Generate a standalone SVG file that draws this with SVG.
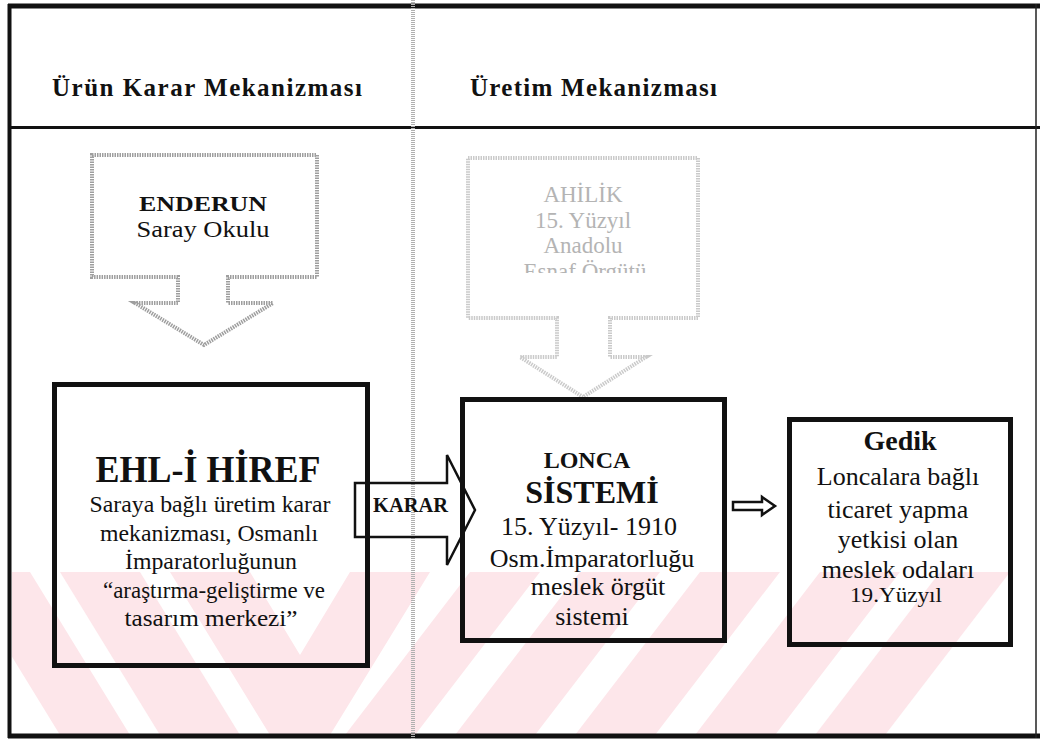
<svg xmlns="http://www.w3.org/2000/svg" width="1040" height="740" viewBox="0 0 1040 740">
<defs>
<style>
.t{font-family:"Liberation Serif","Times New Roman","DejaVu Serif",serif;fill:#111;text-anchor:middle}
.b{font-weight:bold}
.g{fill:#b4b4b4}
.box{fill:none;stroke:#111;stroke-width:5}
.callout{fill:none;stroke:#9e9e9e;stroke-width:4;stroke-dasharray:1.5 1}
.callout2{fill:none;stroke:#cacaca;stroke-width:4;stroke-dasharray:1.5 1}
.blk{fill:none;stroke:#111;stroke-width:2.5;stroke-linejoin:miter}
.wm{fill:#fde6ea}
</style>
<clipPath id="wmclip"><rect x="12" y="572" width="1022" height="162"/></clipPath>
<clipPath id="ahclip"><rect x="460" y="150" width="250" height="123"/></clipPath>
</defs>
<rect width="1040" height="740" fill="#fff"/>
<g id="watermark" clip-path="url(#wmclip)">
<polygon class="wm" points="-40,572 30,572 130,735 60,735"/>
<polygon class="wm" points="60,572 140,572 240,735 160,735"/>
<polygon class="wm" points="170,572 250,572 300,655 350,572 430,572 330,735 270,735"/>
<polygon class="wm" points="470,572 540,572 415,735 345,735"/>
<polygon class="wm" points="580,572 660,572 535,735 455,735"/>
<polygon class="wm" points="700,572 780,572 655,735 575,735"/>
<polygon class="wm" points="820,572 900,572 775,735 695,735"/>
<polygon class="wm" points="940,572 1010,572 885,735 815,735"/>
</g>
<g id="frame">
<line x1="8" y1="6" x2="1040" y2="6" stroke="#111" stroke-width="5"/>
<line x1="9.5" y1="4" x2="9.5" y2="738" stroke="#111" stroke-width="4"/>
<line x1="8" y1="127.5" x2="1040" y2="127.5" stroke="#111" stroke-width="3"/>
<line x1="8" y1="736" x2="1040" y2="736" stroke="#111" stroke-width="5"/>
<line x1="1036" y1="4" x2="1036" y2="738" stroke="#222" stroke-width="1.5"/>
<line x1="413" y1="0" x2="413" y2="740" stroke="#b0b0b0" stroke-width="4" stroke-dasharray="1 1"/>
</g>
<g id="headers">
<text class="t b" x="207" y="96" font-size="25" textLength="310" lengthAdjust="spacing">Ürün Karar Mekanizması</text>
<text class="t b" x="593.5" y="96" font-size="25" textLength="247" lengthAdjust="spacing">Üretim Mekanizması</text>
</g>
<g id="connectors">
<path id="enderun-arrow" class="callout" d="M92,155 H317 V277 H228 V303 H273 L204,345 L135,303 H178 V277 H92 Z"/>
<path id="ahilik-arrow" class="callout2" d="M468,158 H698 V318 H610 V357 H646 L583,397 L520,357 H557 V318 H468 Z"/>
<path id="karar-arrow" class="blk" d="M355,483 H447 V455 L475,510 L447,565 V537 H355 Z"/>
<path id="small-arrow" class="blk" stroke-width="1.8" d="M733,502 H762 V497 L775,506 L762,515 V510 H733 Z"/>
</g>
<g id="enderun">
<text class="t b" x="203" y="211" font-size="22" textLength="128" lengthAdjust="spacingAndGlyphs">ENDERUN</text>
<text class="t" x="203" y="237" font-size="23" textLength="133" lengthAdjust="spacingAndGlyphs">Saray Okulu</text>
</g>
<g id="ahilik" clip-path="url(#ahclip)">
<text class="t g" x="583" y="202" font-size="23">AHİLİK</text>
<text class="t g" x="583" y="227.5" font-size="23">15. Yüzyıl</text>
<text class="t g" x="583" y="253" font-size="23">Anadolu</text>
<text class="t g" x="585" y="278.5" font-size="23">Esnaf Örgütü</text>
</g>
<g id="ehl-i-hiref">
<rect class="box" x="54.5" y="384.5" width="313" height="281"/>
<text class="t b" x="208" y="482" font-size="37" textLength="225" lengthAdjust="spacingAndGlyphs">EHL-İ HİREF</text>
<text class="t" x="210" y="512" font-size="23.5" textLength="241" lengthAdjust="spacingAndGlyphs">Saraya bağlı üretim karar</text>
<text class="t" x="209" y="541" font-size="23.5" textLength="218" lengthAdjust="spacingAndGlyphs">mekanizması, Osmanlı</text>
<text class="t" x="211" y="569" font-size="23.5" textLength="172" lengthAdjust="spacingAndGlyphs">İmparatorluğunun</text>
<text class="t" x="214" y="598" font-size="23.5" textLength="222" lengthAdjust="spacingAndGlyphs">“araştırma-geliştirme ve</text>
<text class="t" x="211" y="626" font-size="23.5" textLength="173" lengthAdjust="spacingAndGlyphs">tasarım merkezi”</text>
</g>
<g id="karar-label">
<text class="t b" x="410.5" y="512" font-size="20" textLength="75" lengthAdjust="spacingAndGlyphs">KARAR</text>
</g>
<g id="lonca">
<rect class="box" x="462.5" y="399.5" width="262" height="241"/>
<text class="t b" x="587" y="468" font-size="24">LONCA</text>
<text class="t b" x="592" y="503" font-size="32">SİSTEMİ</text>
<text class="t" x="589" y="535" font-size="26">15. Yüzyıl- 1910</text>
<text class="t" x="592" y="567" font-size="26">Osm.İmparatorluğu</text>
<text class="t" x="598" y="595" font-size="26">meslek örgüt</text>
<text class="t" x="592" y="625" font-size="26">sistemi</text>
</g>
<g id="gedik">
<rect class="box" x="789.5" y="419.5" width="221" height="225"/>
<text class="t b" x="900" y="450" font-size="28">Gedik</text>
<text class="t" x="898" y="485" font-size="26">Loncalara bağlı</text>
<text class="t" x="898" y="518" font-size="26">ticaret yapma</text>
<text class="t" x="898" y="548" font-size="26">yetkisi olan</text>
<text class="t" x="898" y="578" font-size="26">meslek odaları</text>
<text class="t" x="896" y="602" font-size="20" textLength="92" lengthAdjust="spacingAndGlyphs">19.Yüzyıl</text>
</g>
</svg>
